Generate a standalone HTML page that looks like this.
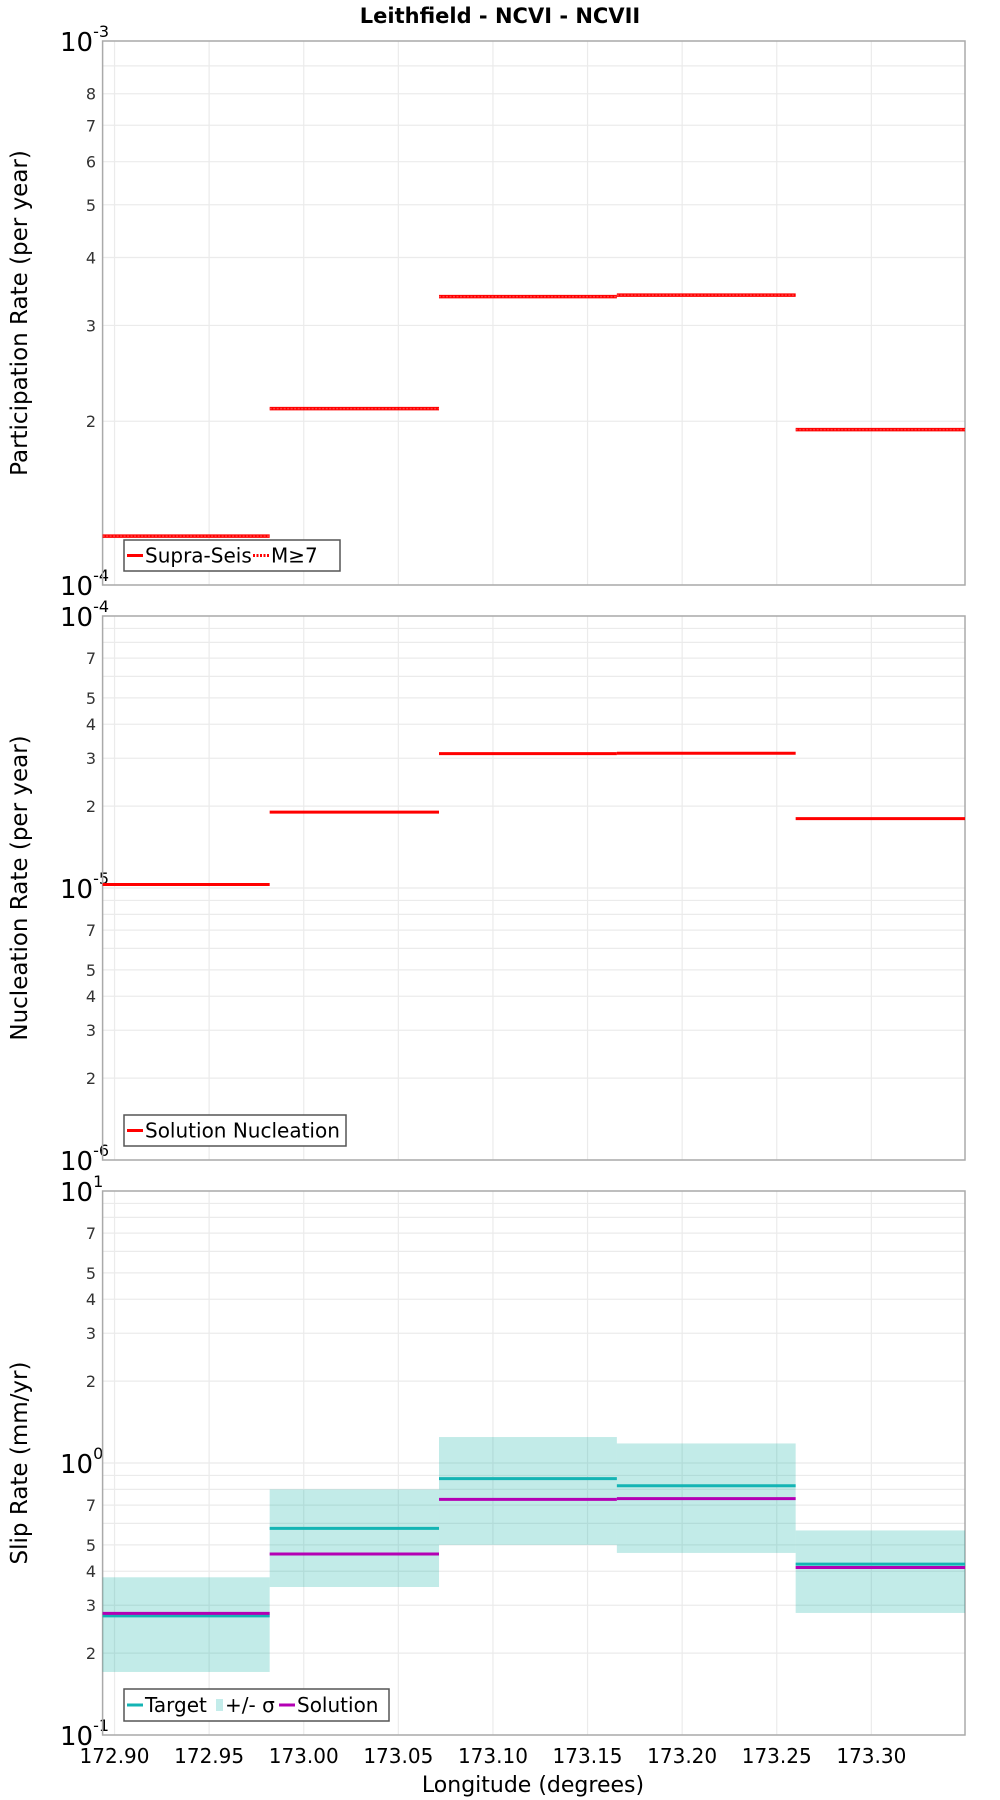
<!DOCTYPE html>
<html><head><meta charset="utf-8"><style>
html,body{margin:0;padding:0;background:#fff;}
svg{display:block;font-family:"DejaVu Sans","Liberation Sans",sans-serif;}
</style></head><body>
<svg id="chart" width="1000" height="1800" viewBox="0 0 1000 1800" xmlns="http://www.w3.org/2000/svg">
<text x="500" y="23" text-anchor="middle" font-size="21" font-weight="bold">Leithfield - NCVI - NCVII</text>
<text x="533" y="1792" text-anchor="middle" font-size="22">Longitude (degrees)</text>
</svg>
<script>
// Segment boundaries (longitude)
const segEdges = [172.8937, 172.982, 173.0715, 173.1655, 173.26, 173.3495];
const xTicks = [172.90, 172.95, 173.00, 173.05, 173.10, 173.15, 173.20, 173.25, 173.30];
const xTickLabels = ["172.90","172.95","173.00","173.05","173.10","173.15","173.20","173.25","173.30"];
// Panel 1: participation rate
const supraSeis = [1.23e-4, 2.11e-4, 3.39e-4, 3.41e-4, 1.93e-4];
const mGe7 = [1.23e-4, 2.11e-4, 3.39e-4, 3.41e-4, 1.93e-4];
// Panel 2: nucleation rate
const solutionNucleation = [1.03e-5, 1.90e-5, 3.12e-5, 3.13e-5, 1.80e-5];
// Panel 3: slip rate
const targetSlip = [0.274, 0.575, 0.876, 0.825, 0.425];
const solutionSlip = [0.280, 0.463, 0.735, 0.740, 0.413];
const sigmaLow = [0.1705, 0.350, 0.50, 0.467, 0.281];
const sigmaHigh = [0.380, 0.80, 1.246, 1.18, 0.565];

const NS = "http://www.w3.org/2000/svg";
const svg = document.getElementById("chart");
const X0 = 102.6, X1 = 965;
const xMin = segEdges[0], xMax = segEdges[segEdges.length-1];
function xs(v){ return X0 + (v - xMin) / (xMax - xMin) * (X1 - X0); }
function mk(tag, attrs, parent){
  const e = document.createElementNS(NS, tag);
  for (const k in attrs) e.setAttribute(k, attrs[k]);
  (parent || svg).appendChild(e);
  return e;
}

function panel(name, top, bottom, expMin, expMax, minorLabels, title){
  const g = mk("g", {});
  
  
  const ys = v => bottom - (Math.log10(v) - expMin) / (expMax - expMin) * (bottom - top);
  for (let e = expMin; e < expMax; e++){
    for (let m = 2; m <= 9; m++){
      const y = ys(m * Math.pow(10, e));
      const gl = mk("line", {x1:X0, x2:X1, y1:y, y2:y, stroke:"#ebebeb", "stroke-width":1.2}, g);
      
      
      if (minorLabels.includes(m)){
        const t = mk("text", {x:96, y:y+6, "text-anchor":"end", "font-size":16, fill:"#333"}, g);
        
        
        t.textContent = m;
      }
    }
  }
  for (let e = expMin; e <= expMax; e++){
    const y = ys(Math.pow(10, e));
    const gl = mk("line", {x1:X0, x2:X1, y1:y, y2:y, stroke:"#ebebeb", "stroke-width":1.2}, g);
    
    
    const t = mk("text", {x:60, y:y+10, "font-size":26, fill:"#000"}, g);
    
    
    t.textContent = "10";
    const s = mk("tspan", {dy:-14, "font-size":16}, t);
    s.textContent = String(e);
  }
  xTicks.forEach(v => {
    const x = xs(v);
    const gl = mk("line", {x1:x, x2:x, y1:top, y2:bottom, stroke:"#ebebeb", "stroke-width":1.2}, g);
    
    
  });
  const border = mk("rect", {x:X0, y:top, width:X1-X0, height:bottom-top, fill:"none", stroke:"#aaa", "stroke-width":1.5}, g);
  
  
  const cy = (top + bottom) / 2;
  const at = mk("text", {x:0, y:0, transform:`translate(27 ${cy}) rotate(-90)`, "text-anchor":"middle", "font-size":23}, g);
  
  
  at.textContent = title;
  return {g, ys};
}

function steps(p, vals, color, w, dashed, nm){
  vals.forEach((v, i) => {
    const y = p.ys(v);
    const a = {x1:xs(segEdges[i]), x2:xs(segEdges[i+1]), y1:y, y2:y, stroke:color, "stroke-width":w};
    if (dashed) a["stroke-dasharray"] = "2 1.5";
    const l = mk("line", a, p.g);
    
    
  });
}

function legend(p, x, y, w, h, items){
  const lg = mk("g", {}, p.g);
  
  
  mk("rect", {x:x, y:y, width:w, height:h, fill:"#fff", stroke:"#555", "stroke-width":1.5}, lg);
  let cx = x + 3;
  items.forEach(it => {
    const e = mk("g", {}, lg);
    
    
    if (it.type === "band"){
      mk("rect", {x:cx+1, y:y+h/2-6, width:7, height:12, fill:"#c3ecea"}, e);
      cx += 10;
    } else {
      const a = {x1:cx, x2:cx+16, y1:y+h/2, y2:y+h/2, stroke:it.color, "stroke-width":3};
      if (it.dashed) a["stroke-dasharray"] = "2 1.5";
      mk("line", a, e);
      cx += 18;
    }
    const t = mk("text", {x:cx, y:y+h/2+7, "font-size":20}, e);
    t.textContent = it.label;
    cx += it.w;
  });
}

const p1 = panel("participation", 41, 585, -4, -3, [2,3,4,5,6,7,8], "Participation Rate (per year)");
steps(p1, supraSeis, "#ff0000", 3.5, false, "supra-seis");
steps(p1, mGe7, "#ff4040", 1.5, true, "m-ge-7");
legend(p1, 124, 540, 216, 31, [
  {label:"Supra-Seis", color:"#ff0000", w:108},
  {label:"M≥7", color:"#ff0000", dashed:true, w:50}
]);

const p2 = panel("nucleation", 616, 1160, -6, -4, [2,3,4,5,7], "Nucleation Rate (per year)");
steps(p2, solutionNucleation, "#ff0000", 3, false, "solution-nucleation");
legend(p2, 124, 1115, 222, 31, [
  {label:"Solution Nucleation", color:"#ff0000", w:200}
]);

const p3 = panel("slip-rate", 1191, 1735, -1, 1, [2,3,4,5,7], "Slip Rate (mm/yr)");
sigmaLow.forEach((lo, i) => {
  const yH = p3.ys(sigmaHigh[i]), yL = p3.ys(lo);
  const r = mk("rect", {x:xs(segEdges[i]), y:yH, width:xs(segEdges[i+1])-xs(segEdges[i]), height:yL-yH, fill:"rgba(0,170,160,0.24)"}, p3.g);
  
  
});
steps(p3, targetSlip, "#14b4b4", 3, false, "target");
steps(p3, solutionSlip, "#b400b4", 3, false, "solution");
legend(p3, 124, 1689, 265, 32, [
  {label:"Target", color:"#14b4b4", w:70},
  {label:"+/- σ", type:"band", w:54},
  {label:"Solution", color:"#b400b4", w:90}
]);

xTicks.forEach((v, i) => {
  const t = mk("text", {x:xs(v), y:1763, "text-anchor":"middle", "font-size":20});
  
  
  t.textContent = xTickLabels[i];
});
</script>
</body></html>
